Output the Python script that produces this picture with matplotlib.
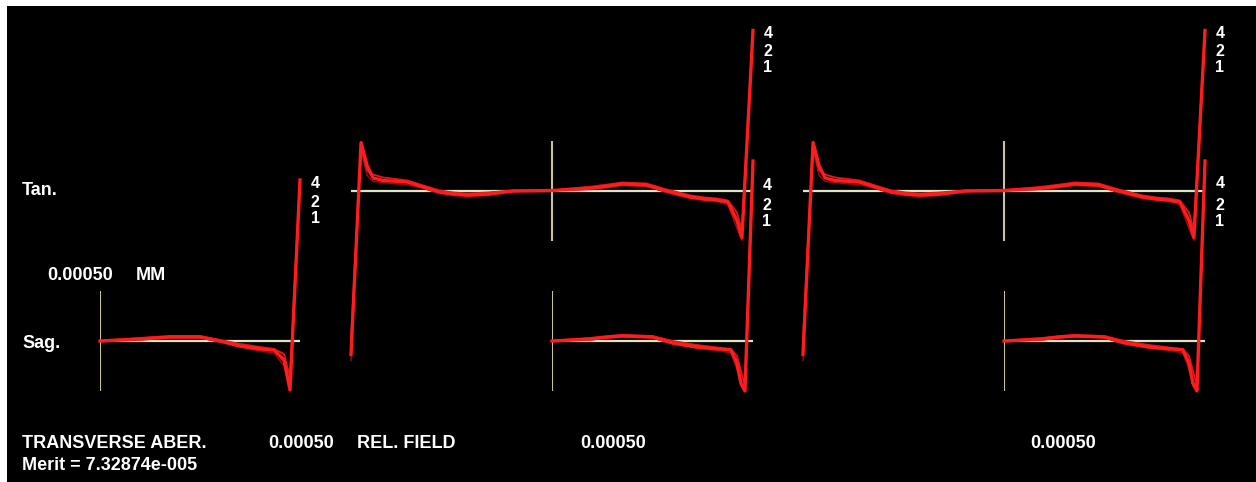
import matplotlib
matplotlib.use("Agg")
import matplotlib.pyplot as plt
from matplotlib.patches import Rectangle

W, H = 1256, 482

# tangential fan (fields 2 and 3 look the same), pupil -1..1, aberration in mm
tan_py = [-1.0, -0.95, -0.92, -0.89, -0.84, -0.80, -0.72, -0.64, -0.56, -0.49, -0.42, -0.32,
          -0.19, 0.0, 0.20, 0.28, 0.35, 0.47, 0.57, 0.69, 0.76, 0.82, 0.875, 0.92, 0.945, 1.0]
tan_w1 = [-0.00164, 0.00048, 0.00025, 0.000125, 0.00010, 0.000095, 0.000085, 0.000035,
          -0.000015, -0.000035, -0.000045, -0.000035, -0.000005, 0.0, 0.000025, 0.000045,
          0.000065, 0.000055, -0.000005, -0.000065, -0.000085, -0.000095, -0.000115,
          -0.00030, -0.00047, 0.00160]
tan_w2 = [-0.00150, 0.00045, 0.00020, 0.00016, 0.00013, 0.00012, 0.00010, 0.00005, 0.0,
          -0.00002, -0.00003, -0.00002, 0.0, 0.0, 0.00004, 0.00006, 0.00008, 0.00007,
          0.00001, -0.00005, -0.00007, -0.00008, -0.00010, -0.00022, -0.00040, 0.00160]
tan_w3 = [-0.00170, 0.00040, 0.00015, 0.00009, 0.00008, 0.00007, 0.00006, 0.00002,
          -0.00003, -0.00005, -0.00006, -0.00005, -0.00001, 0.0, 0.00001, 0.00003, 0.00005,
          0.00004, -0.00002, -0.00008, -0.00010, -0.00011, -0.00014, -0.00038, -0.00050,
          0.00155]

# sagittal fan, fields 2 and 3, pupil 0..1
sag_px = [0.0, 0.19, 0.28, 0.35, 0.50, 0.60, 0.72, 0.84, 0.89, 0.92, 0.94, 0.96, 1.0]
sag_w1 = [0.0, 0.00002, 0.00004, 0.00005, 0.00004, -0.00002, -0.00006, -0.00008, -0.00009,
          -0.00022, -0.00042, -0.00050, 0.00180]
sag_w2 = [0.0, 0.00003, 0.00005, 0.00006, 0.00005, 0.0, -0.00004, -0.00007, -0.00008,
          -0.00015, -0.00030, -0.00045, 0.00180]
sag_w3 = [0.0, 0.00001, 0.00003, 0.00004, 0.00003, -0.00003, -0.00007, -0.00010, -0.00012,
          -0.00028, -0.00045, -0.00050, 0.00170]

# sagittal fan, field 1
sag1_px = [0.0, 0.20, 0.35, 0.50, 0.60, 0.70, 0.80, 0.87, 0.92, 0.95, 1.0]
sag1_w1 = [0.0, 0.00002, 0.00004, 0.00004, 0.0, -0.00005, -0.00008, -0.00009,
           -0.00019, -0.00049, 0.00161]
sag1_w2 = [0.0, 0.00003, 0.00005, 0.00005, 0.00001, -0.00003, -0.00006, -0.00008,
           -0.00013, -0.00036, 0.00161]
sag1_w3 = [0.0, 0.00001, 0.00003, 0.00003, -0.00001, -0.00006, -0.00010, -0.00012,
           -0.00025, -0.00046, 0.00150]

wave_labels = ["4", "2", "1"]
wave_colors = ["#ff1c1c", "#d81818", "#a00c0c"]
scale = 0.0005  # mm, half height of each fan

fig = plt.figure(figsize=(W / 100, H / 100), dpi=100, facecolor="white")
fig.patches.append(Rectangle((7 / W, 0), 1, 1 - 6 / H, transform=fig.transFigure,
                             facecolor="black", edgecolor="none", zorder=-10))


def px_axes(x0, x1, yc, half=50):
    ax = fig.add_axes([x0 / W, 1 - (yc + half) / H, (x1 - x0) / W, 2 * half / H])
    ax.set_axis_off()
    ax.patch.set_alpha(0)
    ax.set_ylim(-scale, scale)
    return ax


def draw_fan(ax, xs, curves, xlim):
    ax.set_xlim(*xlim)
    ax.axhline(0, color="#dfe4c4", lw=1.6, zorder=2)
    ax.axvline(0, color="#c8c496", lw=1.5, zorder=2)
    for ys, c, lw in zip(curves[::-1], wave_colors[::-1], [1.0, 1.4, 2.4]):
        ax.plot(xs, ys, color=c, lw=lw, clip_on=False, zorder=3)


def txt(x, y, s, size=13, ha="left"):
    fig.text(x / W, 1 - y / H, s, color="white", fontsize=size, fontweight="bold",
             family="Liberation Sans", ha=ha, va="center")


# field 1 (sag only visible)
ax = px_axes(100, 300, 341)
draw_fan(ax, sag1_px, [sag1_w1, sag1_w2, sag1_w3], (0, 1))

# fields 2 and 3
for xc in [552, 1004]:
    ax = px_axes(xc - 201, xc + 201, 190.5)
    draw_fan(ax, tan_py, [tan_w1, tan_w2, tan_w3], (-1, 1))
    ax = px_axes(xc, xc + 201, 341)
    draw_fan(ax, sag_px, [sag_w1, sag_w2, sag_w3], (0, 1))

# wavelength labels
for x, ys in [(315, [183, 202, 219]), (767, [185, 206, 222]), (768, [33, 51, 67]),
              (1220, [184, 206, 222]), (1220, [33, 51, 67])]:
    for s, y in zip(wave_labels, ys):
        txt(x, y, s, size=11.5, ha="center")

txt(22, 191, "Tan.")
txt(22, 344, "Sag.")
txt(47, 276, "0.00050")
txt(136, 276, "MM")
txt(22, 443, "TRANSVERSE ABER.")
txt(22, 465, "Merit = 7.32874e-005")
txt(268, 443, "0.00050")
txt(357, 443, "REL. FIELD")
txt(580, 443, "0.00050")
txt(1030, 443, "0.00050")

fig.savefig("out.png", dpi=100, facecolor=fig.get_facecolor())
